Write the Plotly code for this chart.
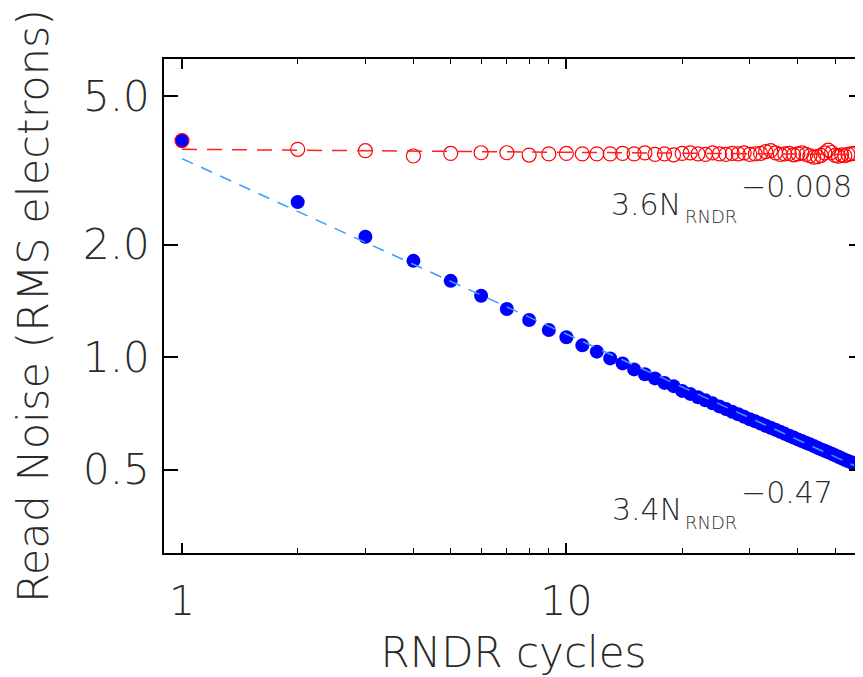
import plotly.graph_objects as go

# ---- data ----
cycles = list(range(1, 57))

noise_filled = [3.80, 2.60, 2.10, 1.81, 1.60, 1.46, 1.345, 1.257, 1.182, 1.130,
                1.075, 1.034, 0.992, 0.962, 0.927, 0.900, 0.877, 0.853, 0.836, 0.812,
                0.797, 0.781, 0.766, 0.752, 0.738, 0.726, 0.714, 0.703, 0.692, 0.682,
                0.673, 0.664, 0.655, 0.647, 0.639, 0.631, 0.623, 0.616, 0.609, 0.602,
                0.596, 0.590, 0.584, 0.578, 0.572, 0.566, 0.561, 0.556, 0.551, 0.546,
                0.541, 0.536, 0.531, 0.527, 0.523, 0.519]

noise_open = [3.80, 3.60, 3.57, 3.455, 3.51, 3.525, 3.525, 3.475, 3.50, 3.51,
              3.50, 3.50, 3.50, 3.51, 3.50, 3.52, 3.49, 3.50, 3.48, 3.51,
              3.52, 3.50, 3.49, 3.52, 3.50, 3.49, 3.51, 3.50, 3.52, 3.49,
              3.50, 3.51, 3.55, 3.57, 3.52, 3.49, 3.50, 3.51, 3.48, 3.50,
              3.52, 3.49, 3.46, 3.43, 3.44, 3.47, 3.52, 3.58, 3.53, 3.47,
              3.45, 3.48, 3.46, 3.49, 3.50, 3.51]

# power-law fits shown in the labels
fit_open_amp, fit_open_exp = 3.6, -0.008
fit_filled_amp, fit_filled_exp = 3.4, -0.47
fit_x = [cycles[0], cycles[-1]]
fit_open = [fit_open_amp * x ** fit_open_exp for x in fit_x]
fit_filled = [fit_filled_amp * x ** fit_filled_exp for x in fit_x]

x_major = [1, 10]
x_major_text = ["1", "10"]
x_minor = [2, 3, 4, 5, 6, 7, 8, 9, 20, 30, 40, 50]
y_major = [0.5, 1, 2, 5]
y_major_text = ["0.5", "1.0", "2.0", "5.0"]

FONT = "DejaVu Sans ExtraLight, DejaVu Sans Light, DejaVu Sans"
TXT = "#2a2a2a"

fig = go.Figure()
fig.add_trace(go.Scatter(x=cycles, y=noise_filled, mode="markers",
                         marker=dict(symbol="circle", size=14, color="#0000ff",
                                     line=dict(width=0)), showlegend=False))
fig.add_trace(go.Scatter(x=cycles, y=noise_open, mode="markers",
                         marker=dict(symbol="circle-open", size=14, color="#ff0000",
                                     line=dict(width=1.2, color="#ff0000")), showlegend=False))
fig.add_trace(go.Scatter(x=fit_x, y=fit_open, mode="lines",
                         line=dict(color="#ff2020", width=1.5, dash="15px,10px"),
                         showlegend=False))
fig.add_trace(go.Scatter(x=fit_x, y=fit_filled, mode="lines",
                         line=dict(color="#3a9cff", width=1.5, dash="12px,9px"),
                         showlegend=False))

# page body adds an 8px offset; figure is sized so the plot lands where the reference has it
OFF = 8
FW, FH = 863 - OFF, 677 - OFF
L, T, W, H = 164 - OFF, 59 - OFF, 699, 494

def px(xp):
    return (xp - OFF - L) / W

def py(yp):
    return (T + H - (yp - OFF)) / H

def ann(text, xp, ymid, size):
    return dict(text=text, xref="paper", yref="paper", x=px(xp), y=py(ymid),
                xanchor="left", yanchor="middle", showarrow=False,
                font=dict(family=FONT, size=size, color=TXT, weight=200),
                borderpad=0, borderwidth=0)

annotations = [
    ann("3.6N", 611, 215 - 10.4, 30),
    ann("RNDR", 685, 223 - 6.2, 18),
    ann("\u22120.008", 741, 196.7 - 10.4, 30),
    ann("3.4N", 612, 520 - 10.4, 30),
    ann("RNDR", 685, 528.3 - 6.2, 18),
    ann("\u22120.47", 741, 503.3 - 10.4, 30),
]

fig.update_layout(
    width=FW, height=FH,
    margin=dict(l=L, r=FW - L - W, t=T, b=FH - T - H, autoexpand=False),
    paper_bgcolor="white", plot_bgcolor="white",
    font=dict(family=FONT, color=TXT, size=40, weight=200),
    annotations=annotations,
    xaxis=dict(
        type="log", range=[-0.0468, 1.7716], automargin=False,
        tickvals=x_major, ticktext=x_major_text,
        ticks="inside", ticklen=10, tickwidth=1.5, tickcolor="black",
        minor=dict(tickvals=x_minor, ticks="inside", ticklen=5, tickwidth=1.2,
                   tickcolor="black", showgrid=False),
        showline=True, linecolor="black", linewidth=1.5, mirror="allticks",
        showgrid=False, zeroline=False,
        tickfont=dict(family=FONT, size=41, color=TXT, weight=200),
        ticklabelstandoff=11,
        title=dict(text="RNDR cycles", standoff=19,
                   font=dict(family=FONT, size=42, color=TXT, weight=200)),
    ),
    yaxis=dict(
        type="log", range=[-0.5245, 0.7981], automargin=False,
        tickvals=y_major, ticktext=y_major_text,
        ticks="inside", ticklen=14, tickwidth=1.5, tickcolor="black",
        showline=True, linecolor="black", linewidth=1.5, mirror="allticks",
        showgrid=False, zeroline=False,
        tickfont=dict(family=FONT, size=42, color=TXT, weight=200),
        ticklabelstandoff=4,
        title=dict(text="Read Noise (RMS electrons)", standoff=22,
                   font=dict(family=FONT, size=43, color=TXT, weight=200)),
    ),
)

fig.write_html("out.html")
